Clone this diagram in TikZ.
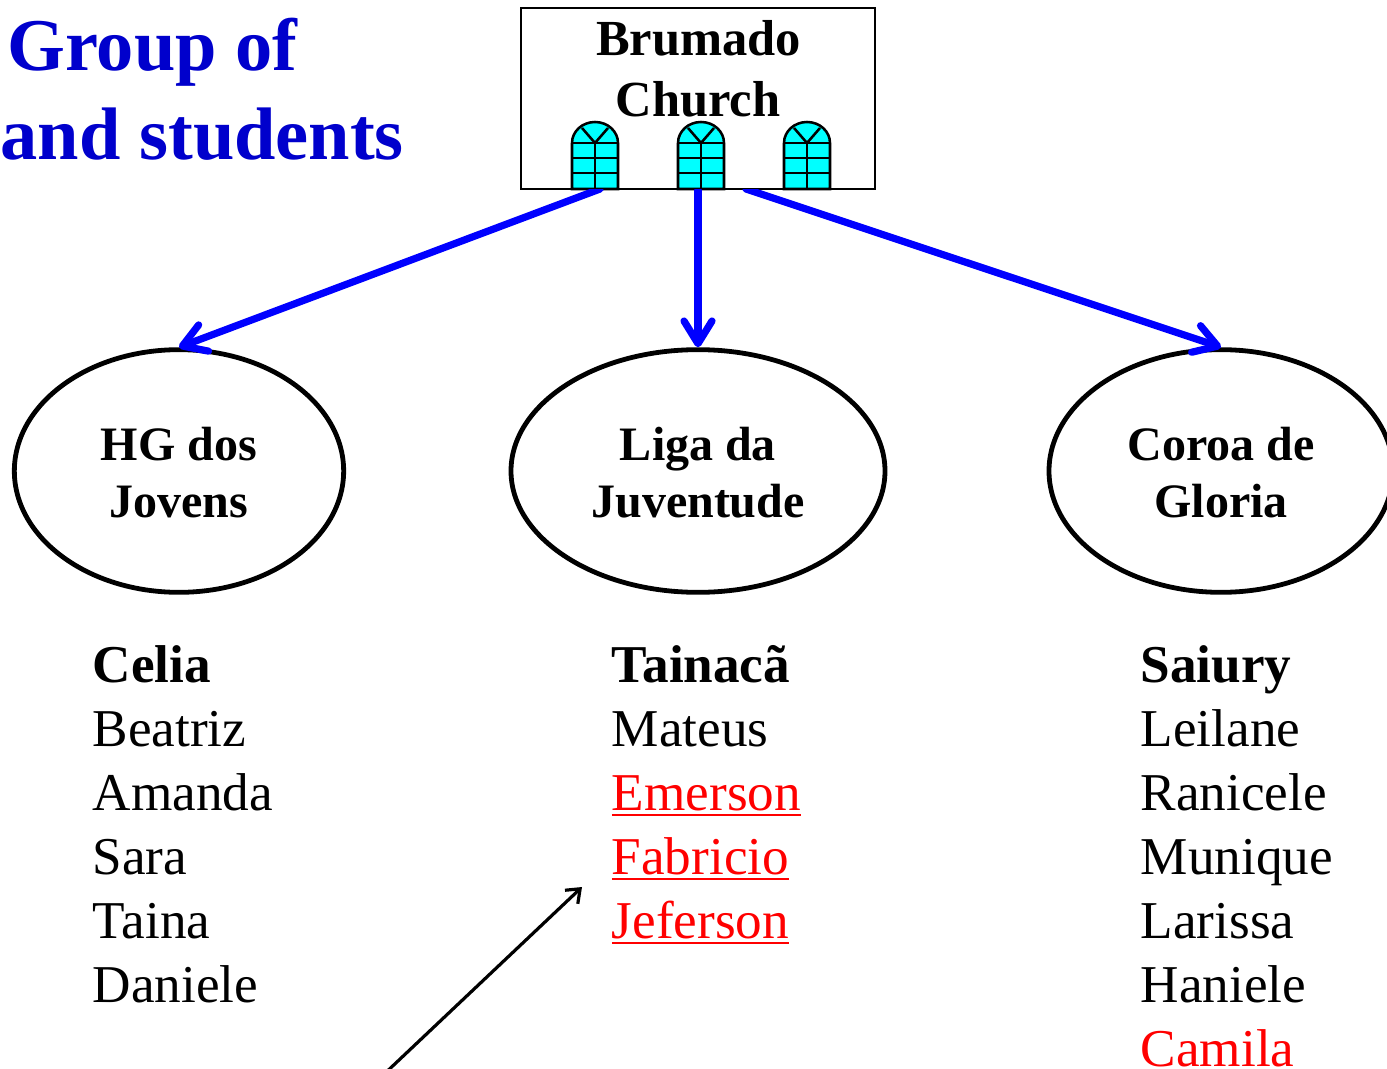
\documentclass[tikz,border=0pt]{standalone}
\usepackage{fontspec}
\setmainfont{Liberation Serif}
\usetikzlibrary{arrows.meta,shapes.geometric}
\definecolor{titleblue}{RGB}{0,0,204}
\definecolor{arrowblue}{RGB}{0,0,255}
\definecolor{glass}{RGB}{0,255,255}
\newcommand{\redul}[1]{\leavevmode\setbox0\hbox{#1}\rlap{\rule[-4.6pt]{\wd0}{1.6pt}}\box0}
\newcommand{\topstrut}{\rule{0pt}{35.25pt}}
\tikzset{
  x=0.75pt,y=-0.75pt,
  titletext/.style={anchor=base west,inner sep=0pt,text=titleblue,font=\fontsize{55.8pt}{60pt}\selectfont\bfseries},
  churchtext/.style={anchor=base,inner sep=0pt,font=\fontsize{37.9pt}{40pt}\selectfont\bfseries},
  churchbox/.style={draw=black,line width=2.1pt,rectangle,inner sep=0pt,minimum width=265.5pt,minimum height=135.75pt},
  team/.style={draw=black,line width=3.6pt,ellipse,inner sep=0pt,align=center,font=\fontsize{36pt}{42.75pt}\selectfont\bfseries},
  person/.style={anchor=base west,inner sep=0pt,font=\fontsize{39.9pt}{44pt}\selectfont},
  leader/.style={person,font=\fontsize{39.9pt}{44pt}\selectfont\bfseries},
  flow/.style={draw=arrowblue,line width=5.4pt,line cap=round,-{Straight Barb[length=17pt,width=21pt,round]}},
  pointer/.style={draw=black,line width=2.4pt,-{Straight Barb[length=9pt,width=14pt]}},
  windowpane/.style={draw=black,line width=1.9pt},
  pics/churchwindow/.style={code={
    \path[windowpane,fill=glass] (-23,0) arc[start angle=180,end angle=0,x radius=17.25pt,y radius=15.75pt] -- (23,46) -- (-23,46) -- cycle;
    \draw[windowpane] (-23,0) -- (23,0) (-23,15) -- (23,15) (-23,30) -- (23,30) (0,0) -- (0,46);
    \draw[windowpane] (0,0) -- (-13,-15) (0,0) -- (13,-15);
  }}
}
\begin{document}
\begin{tikzpicture}
\useasboundingbox (0,0) rectangle (1387,1069);
\clip (0,0) rectangle (1387,1069);
\node[titletext] (t1) at (7,70.5) {Group of};
\node[titletext] (t2) at (0.5,160) {and students};

\node[churchbox] (church) at (698,98.5) {};
\node[churchtext] (ch1) at (698.5,56) {Brumado};
\node[churchtext] (ch2) at (698,117) {Church};
\pic at (595,143) {churchwindow};
\pic at (701,143) {churchwindow};
\pic at (807,143) {churchwindow};

\node[team,minimum width=247pt,minimum height=182pt] (hg) at (179,471) {\topstrut HG dos\\Jovens\vphantom{g}};
\node[team,minimum width=280.5pt,minimum height=182pt] (liga) at (698,471) {\topstrut Liga da\\Juventude\vphantom{g}};
\node[team,minimum width=258pt,minimum height=182pt] (coroa) at (1221,471) {\topstrut Coroa de\\Gloria\vphantom{g}};

\coordinate (leftout) at (600,189);
\coordinate (rightout) at (746,189);
\begin{scope}
\clip (0,190) rectangle (1387,1069);
\draw[flow] (leftout) -- (hg.north);
\draw[flow] (church.south) -- (liga.north);
\draw[flow] (rightout) -- (coroa.north);
\end{scope}

\node[leader] (n1) at (92.5,682) {Celia};
\node[person] (n2) at (92.5,746) {Beatriz};
\node[person] (n3) at (92.5,810) {Amanda};
\node[person] (n4) at (92.5,874) {Sara};
\node[person] (n5) at (92.5,938) {Taina};
\node[person] (n6) at (92.5,1002) {Daniele};

\node[leader] (m1) at (611.5,682) {Tainacã};
\node[person] (m2) at (611.5,746) {Mateus};
\node[person,text=red] (m3) at (611.5,810) {\redul{Emerson}};
\node[person,text=red] (m4) at (611.5,874) {\redul{Fabricio}};
\node[person,text=red] (m5) at (611.5,938) {\redul{Jeferson}};

\node[leader] (s1) at (1140.5,682) {Saiury};
\node[person] (s2) at (1140.5,746) {Leilane};
\node[person] (s3) at (1140.5,810) {Ranicele};
\node[person] (s4) at (1140.5,874) {Munique};
\node[person] (s5) at (1140.5,938) {Larissa};
\node[person] (s6) at (1140.5,1002) {Haniele};
\node[person,text=red] (s7) at (1140.5,1066) {Camila};

\coordinate (ptrstart) at (380,1078);
\coordinate (ptrend) at (582,887);
\draw[pointer] (ptrstart) -- (ptrend);
\end{tikzpicture}
\end{document}
